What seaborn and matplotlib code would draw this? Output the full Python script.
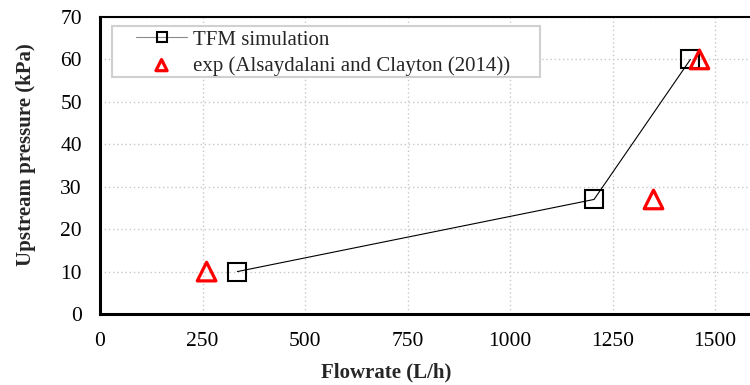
import matplotlib
matplotlib.use("Agg")
import matplotlib.pyplot as plt
from matplotlib.patches import Rectangle
import seaborn as sns
import pandas as pd

# Simulation results and experimental measurements
sim_flow = [335, 1205, 1440]
sim_pressure = [10, 27, 60]
exp_flow = [260, 1350, 1462]
exp_pressure = [10, 27, 60]
x_ticks = [0, 250, 500, 750, 1000, 1250, 1500]
y_ticks = [0, 10, 20, 30, 40, 50, 60, 70]

sns.set_theme(style="white")
plt.rcParams["font.family"] = ["Liberation Serif", "DejaVu Serif"]

fig = plt.figure(figsize=(7.5, 3.85), dpi=100)
ax = fig.add_axes([100 / 750, 1 - 314 / 385, 656 / 750, 297 / 385])

sim = pd.DataFrame({"flow": sim_flow, "pressure": sim_pressure})
exp = pd.DataFrame({"flow": exp_flow, "pressure": exp_pressure})

sns.lineplot(data=sim, x="flow", y="pressure", ax=ax, color="black", lw=0.8,
             marker="s", markersize=13, markerfacecolor="none",
             markeredgecolor="black", markeredgewidth=1.5,
             label="TFM simulation", sort=False)
sns.scatterplot(data=exp, x="flow", y="pressure", ax=ax, marker="^", s=180,
                facecolor="none", edgecolor="red", linewidth=2.3,
                label="exp (Alsaydalani and Clayton (2014))", zorder=5)

ax.set_xlim(0, 1600)
ax.set_ylim(0, 70)
ax.set_xticks(x_ticks)
ax.set_yticks(y_ticks)
ax.tick_params(axis="both", direction="in", length=5, width=1.5,
               labelsize=15.5, colors="black", pad=13)
ax.grid(True, linestyle=(0, (1, 2)), color="#c8c8c8", lw=1.0)

for side in ["left", "bottom"]:
    ax.spines[side].set_linewidth(2.2)
    ax.spines[side].set_color("black")
for side in ["top", "right"]:
    ax.spines[side].set_linewidth(1.5)
    ax.spines[side].set_color("black")

ax.set_xlabel("Flowrate (L/h)", fontsize=15, fontweight="bold")
ax.xaxis.set_label_coords((386 - 100) / 656, (314 - 362) / 297)
ax.set_ylabel("Upstream pressure (kPa)", fontsize=15, fontweight="bold")
ax.yaxis.set_label_coords((36 - 100) / 656, (314 - 155) / 297)

# Legend entries without their own frame; a plain box is drawn behind them
leg = ax.legend(loc="upper left", bbox_to_anchor=((136 - 100) / 656, (314 - 30) / 297),
                fontsize=15, frameon=False, borderpad=0, labelspacing=0.3,
                handlelength=2.45, handletextpad=0.3, borderaxespad=0,
                markerscale=0.6)
for line in leg.get_lines():
    line.set_color("#8a8a8a")
    line.set_markeredgecolor("black")
leg.set_zorder(7)
ax.add_patch(Rectangle(((112 - 100) / 656, (314 - 77) / 297),
                       (540 - 112) / 656, (77 - 26) / 297,
                       transform=ax.transAxes, facecolor="white",
                       edgecolor="#d0d0d0", lw=1.5, zorder=6))

fig.savefig("out.png", dpi=100)
